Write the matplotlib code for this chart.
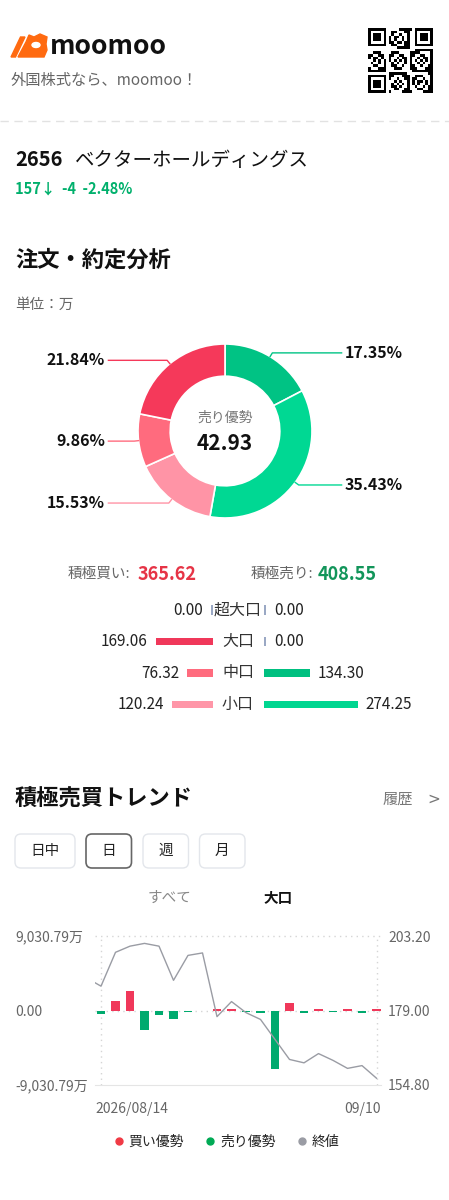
import numpy as np
import matplotlib
matplotlib.use("Agg")
import matplotlib.pyplot as plt
from matplotlib.patches import FancyBboxPatch, Polygon, Ellipse
from matplotlib.lines import Line2D

plt.rcParams['font.family'] = ['Noto Sans CJK JP', 'DejaVu Sans']

W, H = 449, 1200

# --- data ---
donut_labels = ['17.35%', '35.43%', '15.53%', '9.86%', '21.84%']
donut_values = [17.35, 35.43, 15.53, 9.86, 21.84]
donut_colors = ['#00C384', '#00D893', '#FF94A6', '#FF6B7E', '#F5395A']

row_labels = ['超大口', '大口', '中口', '小口']
buy_values = [0.00, 169.06, 76.32, 120.24]
sell_values = [0.00, 0.00, 134.30, 274.25]
buy_colors = ['#F0385A', '#F0385A', '#FF6B7E', '#FF96A8']
sell_colors = ['#00C080', '#00C080', '#00C080', '#00D690']

flow_values = [-480, 1210, 2420, -2420, -540, -1030, -150, 0, 200, 200,
               -200, -360, -7150, 850, -280, 200, -200, 200, -270, 200]
close_prices = [189.6, 186.9, 197.9, 199.9, 200.8, 199.9, 188.8, 196.9, 197.7, 177.0,
                181.9, 178.3, 176.1, 169.6, 163.1, 162.0, 165.0, 162.8, 160.2, 161.1, 157.0]
flow_limit = 9030.79
price_limits = (154.80, 203.20)
flow_ticklabels = ['9,030.79万', '0.00', '-9,030.79万']
date_labels = ['2026/08/14', '09/10']

RED = '#F0385A'
GREEN = '#00AA6E'
GRAY_LINE = '#9A9CA4'
ZERO_TICK = '#9AA8C4'

fig = plt.figure(figsize=(W / 100, H / 100), dpi=100)
fig.patch.set_facecolor('white')
bg = fig.add_axes([0, 0, 1, 1])
bg.set_xlim(0, W)
bg.set_ylim(H, 0)
bg.axis('off')


def px_axes(x0, y0, x1, y1):
    return fig.add_axes([x0 / W, 1 - y1 / H, (x1 - x0) / W, (y1 - y0) / H])


# --- header ---
bg.add_patch(Polygon([(11, 57), (15.5, 57), (25, 37), (20.5, 37)], color='#FF6A10'))
bg.add_patch(Polygon([(18, 57), (26, 42), (29, 35), (34, 37), (40, 34), (47, 37),
                      (46, 44), (47, 50), (44, 57)], color='#FF6A10'))
bg.add_patch(Ellipse((36, 45), 8, 5, color='white'))
bg.text(50, 47, 'moomoo', fontsize=19, fontweight='bold', color='#111', va='center')
bg.text(11, 80, '外国株式なら、moomoo！', fontsize=11, color='#666', va='center')

qr = px_axes(368, 28, 433, 93)
n = 25
ii, jj = np.meshgrid(np.arange(n), np.arange(n), indexing='ij')
grid = (np.sin(ii * jj * 0.73 + ii * 1.31 + jj * 0.57) > 0.1).astype(float)
for (r0, c0) in [(0, 0), (0, n - 7), (n - 7, 0)]:
    grid[max(r0 - 1, 0):r0 + 8, max(c0 - 1, 0):c0 + 8] = 0
    grid[r0:r0 + 7, c0:c0 + 7] = 1
    grid[r0 + 1:r0 + 6, c0 + 1:c0 + 6] = 0
    grid[r0 + 2:r0 + 5, c0 + 2:c0 + 5] = 1
qr.imshow(grid, cmap='gray_r', interpolation='nearest')
qr.axis('off')

bg.plot([0, W], [121, 121], color='#E2E2E2', lw=1, ls=(0, (6, 4)))

bg.text(15, 160, '2656', fontsize=14.5, fontweight='bold', color='#111', va='center')
bg.text(75, 160, 'ベクターホールディングス', fontsize=14, color='#111', va='center')
bg.text(15, 189, '157↓  -4  -2.48%', fontsize=10.5, fontweight='bold', color='#00B06C', va='center')

bg.text(15, 260, '注文・約定分析', fontsize=16, fontweight='bold', color='#111', va='center')
bg.text(15, 305, '単位：万', fontsize=10.5, color='#666', va='center')

# --- donut ---
dax = px_axes(225 - 87, 431 - 87, 225 + 87, 431 + 87)
wedges, _ = dax.pie(donut_values, colors=donut_colors, startangle=90, counterclock=False,
                    radius=1, wedgeprops=dict(width=0.37, edgecolor='white', linewidth=1.2))
dax.set_xlim(-1, 1)
dax.set_ylim(-1, 1)
dax.set_aspect('equal')
dax.axis('off')
for w, lab, col in zip(wedges, donut_labels, donut_colors):
    ang = np.deg2rad((w.theta1 + w.theta2) / 2)
    cx, cy = np.cos(ang), np.sin(ang)
    side = 1 if cx > 0 else -1
    ey = cy * 1.05
    dax.plot([cx, cx * 1.05, side * 1.34], [cy, ey, ey], color=col, lw=1, clip_on=False)
    dax.text(side * 1.38, ey, lab, ha='left' if side > 0 else 'right', va='center',
             fontsize=11.5, fontweight='bold', color='#111', clip_on=False)
dax.text(0, 0.15, '売り優勢', ha='center', va='center', fontsize=10, color='#777')
dax.text(0, -0.14, '42.93', ha='center', va='center', fontsize=15, fontweight='bold', color='#111')

# --- summary ---
bg.text(68, 574, '積極買い:', fontsize=10.5, color='#666', va='center')
bg.text(138, 574, '365.62', fontsize=13, fontweight='bold', color='#E63446', va='center')
bg.text(251, 574, '積極売り:', fontsize=10.5, color='#666', va='center')
bg.text(318, 574, '408.55', fontsize=13, fontweight='bold', color='#12955A', va='center')

# --- order rows ---
scale = 0.341
min_w = 2 / scale
gap = 8 / scale
lax = px_axes(100, 594, 213.3, 720)
rax = px_axes(264.3, 594, 400, 720)
lax.set_xlim(113.3 / scale, 0)
rax.set_xlim(0, 135.7 / scale)
rows = np.arange(len(row_labels))
for a, vals, cols in [(lax, buy_values, buy_colors), (rax, sell_values, sell_colors)]:
    widths = [max(v, min_w) for v in vals]
    heights = [0.24 if v > 0 else 0.29 for v in vals]
    colors = [c if v > 0 else ZERO_TICK for v, c in zip(vals, cols)]
    a.barh(rows, widths, height=heights, color=colors)
    for r, v, wd in zip(rows, vals, widths):
        a.text(wd + gap, r, f'{v:.2f}', ha='right' if a is lax else 'left', va='center',
               fontsize=11, color='#222', clip_on=False)
    a.set_ylim(3.49, -0.508)
    a.axis('off')
for r, lab in zip(rows, row_labels):
    bg.text(238, 610 + 31.5 * r, lab, ha='center', va='center', fontsize=11.5, color='#333')

# --- trend header ---
bg.text(15, 799, '積極売買トレンド', fontsize=16, fontweight='bold', color='#111', va='center')
bg.text(383, 799, '履歴', fontsize=11, color='#777', va='center')
bg.text(427, 799, '>', fontsize=11, color='#777', va='center', family='DejaVu Sans')

buttons = [('日中', 15, 75), ('日', 86, 131.5), ('週', 143, 188.5), ('月', 199.5, 245)]
for k, (lab, x0, x1) in enumerate(buttons):
    sel = lab == '日'
    bg.add_patch(FancyBboxPatch((x0, 834), x1 - x0, 34, boxstyle='round,pad=0,rounding_size=6',
                                facecolor='white', edgecolor='#666' if sel else '#E3E6EB',
                                lw=1.2 if sel else 1))
    bg.text((x0 + x1) / 2, 851, lab, ha='center', va='center', fontsize=10.5, color='#222')

bg.text(170, 898, 'すべて', ha='center', va='center', fontsize=10.5, color='#888')
bg.text(278, 898, '大口', ha='center', va='center', fontsize=10.5, fontweight='bold', color='#111')

# --- trend chart ---
cax = px_axes(95, 936, 381, 1085)
x = np.arange(len(flow_values))
cax.bar(x, flow_values, width=0.62, color=[RED if v > 0 else GREEN for v in flow_values], zorder=3)
cax.set_xlim(-0.414, 19.31)
cax.set_ylim(-flow_limit, flow_limit)
dot = (0, (1, 3))
cax.axhline(flow_limit, color='#D5D5D5', lw=1, ls=dot, clip_on=False, zorder=1)
cax.axhline(0, color='#D5D5D5', lw=1, ls=dot, zorder=1)
cax.axvline(0, color='#D5D5D5', lw=1, ls=dot, zorder=1)
cax.axvline(len(flow_values) - 1, color='#D5D5D5', lw=1, ls=dot, zorder=1)
for s in ['top', 'left', 'right']:
    cax.spines[s].set_visible(False)
cax.spines['bottom'].set_color('#E5E5E5')
cax.set_yticks([flow_limit, 0, -flow_limit])
cax.set_yticklabels(flow_ticklabels)
cax.tick_params(axis='y', length=0, pad=80 * 0.72, labelsize=10, labelcolor='#666')
for t in cax.get_yticklabels():
    t.set_ha('left')
cax.set_xticks([-0.414, 19.31])
cax.set_xticklabels(date_labels)
cax.tick_params(axis='x', length=0, pad=12, labelsize=10, labelcolor='#666')
xt = cax.get_xticklabels()
xt[0].set_ha('left')
xt[1].set_ha('right')

pax = cax.twinx()
pax.plot(np.arange(-1, len(flow_values)), close_prices, color=GRAY_LINE, lw=1, zorder=4)
pax.set_ylim(*price_limits)
pax.set_yticks([price_limits[1], 179.00, price_limits[0]])
pax.set_yticklabels([f'{v:.2f}' for v in [price_limits[1], 179.00, price_limits[0]]])
pax.tick_params(axis='y', length=0, pad=5, labelsize=10, labelcolor='#666')
for s in pax.spines.values():
    s.set_visible(False)

handles = [Line2D([], [], marker='o', ls='', color='#F03A45', ms=5, label='買い優勢'),
           Line2D([], [], marker='o', ls='', color='#00AA55', ms=5, label='売り優勢'),
           Line2D([], [], marker='o', ls='', color=GRAY_LINE, ms=5, label='終値')]
fig.legend(handles=handles, ncol=3, loc='center', bbox_to_anchor=(227 / W, 1 - 1142 / H),
           frameon=False, fontsize=10, handlelength=0.6, handletextpad=0.4,
           columnspacing=1.6, labelcolor='#222')

fig.savefig('out.png', dpi=100)
